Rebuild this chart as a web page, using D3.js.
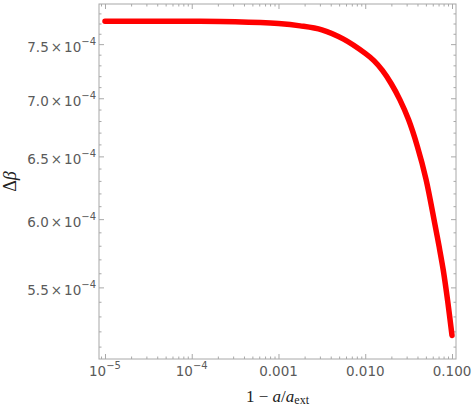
<!DOCTYPE html>
<html>
<head>
<meta charset="utf-8">
<script src="https://cdn.jsdelivr.net/npm/d3@7"></script>
<style>
  html, body { margin: 0; padding: 0; background: #fff; }
  svg { display: block; }
</style>
</head>
<body>
<svg id="chart" width="474" height="409"></svg>
<script>
// ---- data ----
const xValues = [1e-5, 3.162e-5, 1e-4, 3.162e-4, 1e-3, 1.778e-3, 3.162e-3, 5.623e-3,
  1e-2, 1.259e-2, 1.585e-2, 1.995e-2, 2.512e-2, 3.162e-2, 3.981e-2,
  5.012e-2, 6.310e-2, 7.079e-2, 7.943e-2, 8.913e-2, 0.1];
const deltaBeta = [7.723e-4, 7.723e-4, 7.722e-4, 7.717e-4, 7.699e-4, 7.677e-4, 7.638e-4, 7.548e-4,
  7.412e-4, 7.344e-4, 7.251e-4, 7.131e-4, 6.986e-4, 6.810e-4, 6.585e-4,
  6.315e-4, 5.971e-4, 5.799e-4, 5.620e-4, 5.406e-4, 5.173e-4];
const xTickValues = [1e-5, 1e-4, 1e-3, 1e-2, 1e-1];
const xTickLabels = [["10", "\u22125"], ["10", "\u22124"], ["0.001", ""], ["0.010", ""], ["0.100", ""]];
const yTickValues = [5.5e-4, 6.0e-4, 6.5e-4, 7.0e-4, 7.5e-4];
const yTickMantissas = ["5.5", "6.0", "6.5", "7.0", "7.5"];
const yTickExponent = "\u22124";
const xDomain = [8.53e-6, 0.1112];
const yDomain = [5.02e-4, 7.894e-4];

// ---- layout ----
const L = 99, R = 456, T = 4, B = 359;
const svg = d3.select("#chart");
const x = d3.scaleLog().domain(xDomain).range([L, R]);
const y = d3.scaleLog().domain(yDomain).range([B, T]);

const frameColor = "#a8a8a8";
const labelColor = "#5a5a5a";
const tickFont = "DejaVu Sans, sans-serif";

// minor ticks
const xMinor = [];
for (let e = -6; e <= 0; e++) for (let m = 2; m <= 9; m++) {
  const v = m * Math.pow(10, e);
  if (v >= xDomain[0] && v <= xDomain[1]) xMinor.push(v);
}
const yMinor = [];
for (let k = 50; k <= 79; k++) {
  const v = k * 1e-5;
  if (v >= yDomain[0] && v <= yDomain[1] && k % 5 !== 0) yMinor.push(v);
}

const g = svg.append("g");

const axisStyle = sel => {
  sel.select(".domain").remove();
  sel.selectAll("line").attr("stroke", frameColor).attr("stroke-width", 1);
  sel.selectAll("text").remove();
};
const maj = 5, mnr = 2.5;
const addAxis = (gen, tr, vals, size) =>
  g.append("g").attr("transform", tr)
    .call(gen.tickValues(vals).tickSizeInner(-size).tickSizeOuter(0)).call(axisStyle);
addAxis(d3.axisBottom(x), `translate(0,${B})`, xTickValues, maj);
addAxis(d3.axisBottom(x), `translate(0,${B})`, xMinor, mnr);
addAxis(d3.axisTop(x), `translate(0,${T})`, xTickValues, maj);
addAxis(d3.axisTop(x), `translate(0,${T})`, xMinor, mnr);
addAxis(d3.axisLeft(y), `translate(${L},0)`, yTickValues, maj);
addAxis(d3.axisLeft(y), `translate(${L},0)`, yMinor, mnr);
addAxis(d3.axisRight(y), `translate(${R},0)`, yTickValues, maj);
addAxis(d3.axisRight(y), `translate(${R},0)`, yMinor, mnr);

// frame
g.append("rect").attr("x", L).attr("y", T).attr("width", R - L).attr("height", B - T)
  .attr("fill", "none").attr("stroke", frameColor).attr("stroke-width", 1);

// data curve
const pts = xValues.map((v, i) => [v, deltaBeta[i]]);
const line = d3.line().x(d => x(d[0])).y(d => y(d[1])).curve(d3.curveCatmullRom.alpha(0.5));
g.append("path").datum(pts).attr("d", line)
  .attr("fill", "none").attr("stroke", "#ff0000").attr("stroke-width", 5.5)
  .attr("stroke-linecap", "round").attr("stroke-linejoin", "round");

// x tick labels
xTickValues.forEach((v, i) => {
  const [base, sup] = xTickLabels[i];
  const t = g.append("text").attr("x", x(v)).attr("y", 376)
    .attr("text-anchor", "middle").attr("fill", labelColor)
    .attr("font-family", tickFont).attr("font-size", 13.5);
  t.append("tspan").text(base);
  if (sup) t.append("tspan").attr("dy", -7).attr("font-size", 10).text(sup);
});

// y tick labels
yTickValues.forEach((v, i) => {
  const t = g.append("text").attr("x", 96).attr("y", y(v) + 7.7)
    .attr("text-anchor", "end").attr("fill", labelColor)
    .attr("font-family", tickFont).attr("font-size", 13.5);
  t.append("tspan").text(yTickMantissas[i]);
  t.append("tspan").attr("dx", 2).text("\u00d7");
  t.append("tspan").attr("dx", 2).text("10");
  t.append("tspan").attr("dy", -7).attr("font-size", 10).text(yTickExponent);
});

// axis titles
const serif = "Liberation Serif, Times New Roman, serif";
const xt = g.append("text").attr("x", (L + R) / 2).attr("y", 401.5)
  .attr("text-anchor", "middle").attr("fill", "#222").attr("font-family", serif).attr("font-size", 17);
xt.append("tspan").text("1 \u2212 ");
xt.append("tspan").attr("font-style", "italic").text("a");
xt.append("tspan").text("/");
xt.append("tspan").attr("font-style", "italic").text("a");
xt.append("tspan").attr("font-size", 12).attr("dy", 2).text("ext");

const yt = g.append("text").attr("transform", `translate(16,${(T + B) / 2}) rotate(-90)`)
  .attr("text-anchor", "middle").attr("fill", "#222").attr("font-family", serif).attr("font-size", 18);
yt.append("tspan").text("\u0394");
yt.append("tspan").attr("font-style", "italic").text("\u03b2");
</script>
</body>
</html>
